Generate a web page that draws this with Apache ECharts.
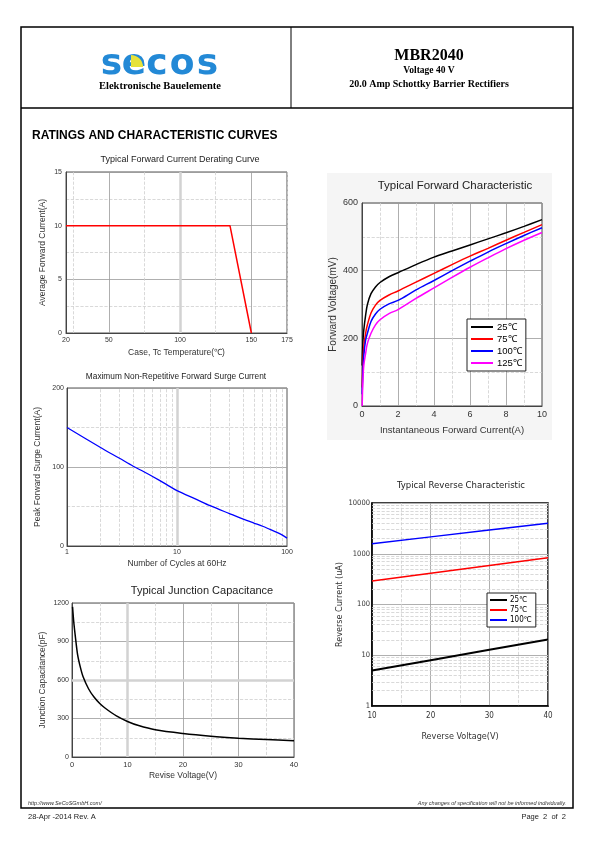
<!DOCTYPE html>
<html><head><meta charset="utf-8">
<script src="https://cdn.jsdelivr.net/npm/echarts@6/dist/echarts.min.js"></script>
<style>html,body{margin:0;padding:0;background:#fff}#c{width:595px;height:842px}</style>
</head><body><div id="c"></div><script>
// ---------- data ----------
const deratingTempC = [20, 135, 150];
const deratingA = [10, 10, 0];
const deratingXLabels = [20, 50, 100, 150, 175];

const surgeCycles = [1, 2, 3, 4, 5, 6, 8, 10, 15, 20, 30, 40, 50, 60, 70, 80, 90, 100];
const surgeA = [150, 125, 111, 101, 94, 88, 78, 70, 59, 51, 41, 34, 29, 25, 21, 17.5, 14, 10];
const surgeMinorX = [2, 3, 4, 5, 6, 7, 8, 9, 20, 30, 40, 50, 60, 70, 80, 90];

const capV = [0.1, 0.3, 0.6, 1, 1.5, 2, 3, 4, 5, 6, 8, 10, 12, 15, 20, 25, 30, 35, 40];
const capPF = [1170, 1060, 940, 800, 700, 625, 530, 465, 417, 380, 320, 277, 245, 212, 183, 162, 147, 136, 126];

const fwdI = [0.01, 0.05, 0.1, 0.2, 0.3, 0.5, 0.75, 1, 1.5, 2, 3, 4, 5, 6, 7, 8, 9, 10];
const fwd25 = [120, 190, 225, 268, 300, 332, 352, 365, 382, 394, 418, 440, 458, 476, 494, 512, 531, 551];
const fwd75 = [55, 130, 175, 215, 240, 275, 298, 312, 328, 340, 366, 392, 418, 443, 466, 490, 513, 536];
const fwd100 = [35, 105, 150, 195, 215, 250, 272, 286, 302, 312, 343, 371, 400, 428, 455, 480, 504, 527];
const fwd125 = [0, 75, 120, 155, 185, 215, 240, 255, 273, 285, 318, 349, 380, 410, 438, 465, 490, 513];
const fwdNames = ['25℃', '75℃', '100℃', '125℃'];

const revV = [10, 20, 30, 40];
const rev25 = [5, 8, 12.8, 20.5];
const rev75 = [290, 412, 585, 830];
const rev100 = [1580, 2150, 2930, 4000];
const revNames = ['25℃', '75℃', '100℃'];
const revMinorY = [2,3,4,5,6,7,8,9, 20,30,40,50,60,70,80,90, 200,300,400,500,600,700,800,900, 2000,3000,4000,5000,6000,7000,8000,9000];

// ---------- helpers ----------
const SANS = '"Liberation Sans", Arial, sans-serif';
const SERIF = '"Liberation Serif", "Times New Roman", serif';
const NARROW = '"Liberation Sans Narrow", "DejaVu Sans Condensed", "Liberation Sans", sans-serif';
const zip = (a, b) => a.map((v, i) => [v, b[i]]);
const MAJOR = '#9a9a9a', MINOR = '#cfcfcf';
const plain = v => String(v);

function colorCycle(len, on, color) {
  const arr = [];
  for (let i = 0; i < len; i++) arr.push(on.includes(i) ? color : 'rgba(0,0,0,0)');
  return arr;
}
function helperLines(xi, yi, data, style) {
  return {
    type: 'line', xAxisIndex: xi, yAxisIndex: yi, data: [], silent: true, z: 1,
    markLine: { silent: true, z: 1, animation: false, symbol: ['none', 'none'], label: { show: false },
      emphasis: { disabled: true }, lineStyle: style, data: data }
  };
}
function txt(x, y, text, font, align, fill, extra) {
  return Object.assign({ type: 'text', x: x, y: y, style: { text: text, font: font, fill: fill || '#000',
    textAlign: align || 'left', textVerticalAlign: 'middle' } }, extra || {});
}
const lbl = (size, fam) => ({ fontSize: size, fontFamily: fam || SANS, color: '#333' });
const axLine = (c, w) => ({ show: true, lineStyle: { color: c || '#444', width: w || 1 } });

const chart = echarts.init(document.getElementById('c'), null, { renderer: 'canvas' });

const option = {
  animation: false,
  backgroundColor: '#fff',
  graphic: [
    { type: 'rect', z: -10, shape: { x: 327, y: 173, width: 225, height: 267 }, style: { fill: '#f5f5f5' } },
    { type: 'rect', shape: { x: 21, y: 27, width: 552, height: 781 }, style: { fill: 'none', stroke: '#000', lineWidth: 1.5 } },
    { type: 'line', shape: { x1: 21, y1: 108, x2: 573, y2: 108 }, style: { stroke: '#000', lineWidth: 1.5 } },
    { type: 'line', shape: { x1: 291, y1: 27, x2: 291, y2: 108 }, style: { stroke: '#000', lineWidth: 1 } },
    // logo
    txt(111.5, 65, 's', 'bold 36px "DejaVu Sans"', 'center', '#2389d6'),
    txt(134, 65, 'e', 'bold 36px "DejaVu Sans"', 'center', '#2389d6'),
    { type: 'sector', shape: { cx: 131, cy: 67, r: 12, startAngle: -Math.PI / 2, endAngle: 0 }, style: { fill: '#e6e23a' } },
    txt(157, 65, 'c', 'bold 36px "DejaVu Sans"', 'center', '#2389d6'),
    txt(182, 65, 'o', 'bold 36px "DejaVu Sans"', 'center', '#2389d6'),
    txt(207.5, 65, 's', 'bold 36px "DejaVu Sans"', 'center', '#2389d6'),
    txt(160, 86, 'Elektronische Bauelemente', 'bold 10.5px ' + SERIF, 'center'),
    txt(429, 56, 'MBR2040', 'bold 16px ' + SERIF, 'center'),
    txt(429, 71, 'Voltage 40 V', 'bold 9.5px ' + SERIF, 'center'),
    txt(429, 84, '20.0 Amp Schottky Barrier Rectifiers', 'bold 10px ' + SERIF, 'center'),
    txt(32, 136, 'RATINGS AND CHARACTERISTIC CURVES', 'bold 12px ' + SANS, 'left'),
    // chart titles
    txt(180, 160, 'Typical Forward Current Derating Curve', '9px ' + SANS, 'center', '#222'),
    txt(176, 377, 'Maximum Non-Repetitive Forward Surge Current', '8.3px ' + SANS, 'center', '#222'),
    txt(202, 591, 'Typical Junction Capacitance', '11px ' + SANS, 'center', '#222'),
    txt(455, 186, 'Typical Forward Characteristic', '11.5px ' + SANS, 'center', '#222'),
    txt(461, 486, 'Typical Reverse Characteristic', '9.5px ' + NARROW, 'center', '#222'),
    // footer
    txt(28, 803, 'http://www.SeCoSGmbH.com/', 'italic 5.5px ' + SANS, 'left', '#333'),
    txt(566, 803, 'Any changes of specification will not be informed individually.', 'italic 5.5px ' + SANS, 'right', '#333'),
    txt(28, 817, '28-Apr -2014 Rev. A', '7.5px ' + SANS, 'left', '#222'),
    txt(566, 817, 'Page  2  of  2', '7.5px ' + SANS, 'right', '#222')
  ],
  legend: [
    { left: 467, top: 319, orient: 'vertical', selectedMode: false, data: fwdNames,
      backgroundColor: '#fff', borderColor: '#222', borderWidth: 1, padding: [3, 4, 3, 4],
      itemGap: 2, itemWidth: 22, itemHeight: 2, icon: 'rect',
      textStyle: { fontSize: 9.5, fontFamily: SANS, color: '#000', padding: [0, 0, 0, -1] } },
    { left: 487, top: 593, orient: 'vertical', selectedMode: false, data: revNames,
      backgroundColor: '#fff', borderColor: '#222', borderWidth: 1, padding: [3, 4, 3, 3],
      itemGap: 2, itemWidth: 17, itemHeight: 2, icon: 'rect',
      textStyle: { fontSize: 8, fontFamily: NARROW, color: '#000', padding: [0, 0, 0, -2] } }
  ],
  grid: [
    { left: 66, top: 172, width: 221, height: 161, show: true, borderColor: '#555', borderWidth: 1, backgroundColor: '#fff', outerBoundsMode: 'none' },
    { left: 67, top: 388, width: 220, height: 158, show: true, borderColor: '#555', borderWidth: 1, backgroundColor: '#fff', outerBoundsMode: 'none' },
    { left: 72, top: 603, width: 222, height: 154, show: true, borderColor: '#555', borderWidth: 1, backgroundColor: '#fff', outerBoundsMode: 'none' },
    { left: 362, top: 203, width: 180, height: 203, show: true, borderColor: '#444', borderWidth: 1, backgroundColor: '#fff', outerBoundsMode: 'none' },
    { left: 372, top: 503, width: 176, height: 203, show: true, borderColor: '#000', borderWidth: 1.5, backgroundColor: '#fff', outerBoundsMode: 'none' }
  ],
  xAxis: [
    // 0: derating (solid grid + labels)
    { type: 'value', gridIndex: 0, min: 20, max: 175, interval: 5,
      name: 'Case, Tc Temperature(℃)', nameLocation: 'middle', nameGap: 15.5, nameTextStyle: lbl(8.5),
      axisLine: axLine(), axisTick: { show: false },
      axisLabel: Object.assign(lbl(7), { margin: 4, formatter: v => deratingXLabels.includes(v) ? String(v) : '' }),
      splitLine: { show: true, lineStyle: { color: colorCycle(10, [6], MAJOR), width: 0.8 } } },
    // 1: derating (dashed grid)
    { type: 'value', gridIndex: 0, min: 20, max: 175, interval: 5, position: 'bottom',
      axisLine: { show: false }, axisTick: { show: false }, axisLabel: { show: false },
      splitLine: { show: true, lineStyle: { color: colorCycle(10, [1], MINOR), width: 0.8, type: 'dashed' } } },
    // 2: surge (log)
    { type: 'log', logBase: 10, gridIndex: 1, min: 1, max: 100,
      name: 'Number of Cycles at 60Hz', nameLocation: 'middle', nameGap: 13.5, nameTextStyle: lbl(8.5),
      axisLine: axLine(), axisTick: { show: false }, axisLabel: Object.assign(lbl(7), { margin: 3, formatter: plain }),
      splitLine: { show: true, showMinLine: false, showMaxLine: false, lineStyle: { color: '#d2d2d2', width: 2.5 } } },
    // 3: capacitance
    { type: 'value', gridIndex: 2, min: 0, max: 40, interval: 10,
      name: 'Revise Voltage(V)', nameLocation: 'middle', nameGap: 14.5, nameTextStyle: lbl(8.5),
      axisLine: axLine(), axisTick: { show: false }, axisLabel: Object.assign(lbl(7.5), { margin: 4, formatter: plain }),
      splitLine: { show: true, lineStyle: { color: MAJOR, width: 0.8 } },
      minorTick: { show: false, splitNumber: 2 },
      minorSplitLine: { show: true, lineStyle: { color: MINOR, width: 0.8, type: 'dashed' } } },
    // 4: forward
    { type: 'value', gridIndex: 3, min: 0, max: 10, interval: 2,
      name: 'Instantaneous Forward Current(A)', nameLocation: 'middle', nameGap: 19.5, nameTextStyle: lbl(9.5),
      axisLine: axLine(), axisTick: { show: false }, axisLabel: Object.assign(lbl(9), { margin: 4, formatter: plain }),
      splitLine: { show: true, lineStyle: { color: MAJOR, width: 0.8 } },
      minorTick: { show: false, splitNumber: 2 },
      minorSplitLine: { show: true, lineStyle: { color: MINOR, width: 0.8, type: 'dashed' } } },
    // 5: reverse
    { type: 'value', gridIndex: 4, min: 10, max: 40, interval: 10,
      name: 'Reverse Voltage(V)', nameLocation: 'middle', nameGap: 26, nameTextStyle: lbl(9, NARROW),
      axisLine: axLine('#000', 1.5), axisTick: { show: false }, axisLabel: Object.assign(lbl(8, NARROW), { margin: 6, formatter: plain }),
      splitLine: { show: true, lineStyle: { color: MAJOR, width: 0.8 } },
      minorTick: { show: false, splitNumber: 2 },
      minorSplitLine: { show: true, lineStyle: { color: MINOR, width: 0.8, type: 'dashed' } } }
  ],
  yAxis: [
    { type: 'value', gridIndex: 0, min: 0, max: 15, interval: 5,
      name: 'Average Forward Current(A)', nameLocation: 'middle', nameGap: 19, nameTextStyle: lbl(8.5),
      axisLine: axLine(), axisTick: { show: false }, axisLabel: Object.assign(lbl(7), { margin: 4, formatter: plain }),
      splitLine: { show: true, lineStyle: { color: MAJOR, width: 0.8 } },
      minorTick: { show: false, splitNumber: 2 },
      minorSplitLine: { show: true, lineStyle: { color: MINOR, width: 0.8, type: 'dashed' } } },
    { type: 'value', gridIndex: 1, min: 0, max: 200, interval: 100,
      name: 'Peak Forward Surge Current(A)', nameLocation: 'middle', nameGap: 24.5, nameTextStyle: lbl(8.5),
      axisLine: axLine(), axisTick: { show: false }, axisLabel: Object.assign(lbl(7), { margin: 3, formatter: plain }),
      splitLine: { show: true, lineStyle: { color: MAJOR, width: 0.8 } },
      minorTick: { show: false, splitNumber: 2 },
      minorSplitLine: { show: true, lineStyle: { color: MINOR, width: 0.8, type: 'dashed' } } },
    { type: 'value', gridIndex: 2, min: 0, max: 1200, interval: 300,
      name: 'Junction Capacitance(pF)', nameLocation: 'middle', nameGap: 24.5, nameTextStyle: lbl(8.5),
      axisLine: axLine(), axisTick: { show: false }, axisLabel: Object.assign(lbl(7), { margin: 3, formatter: plain }),
      splitLine: { show: true, lineStyle: { color: MAJOR, width: 0.8 } },
      minorTick: { show: false, splitNumber: 2 },
      minorSplitLine: { show: true, lineStyle: { color: MINOR, width: 0.8, type: 'dashed' } } },
    { type: 'value', gridIndex: 3, min: 0, max: 600, interval: 200,
      name: 'Forward Voltage(mV)', nameLocation: 'middle', nameGap: 23.5, nameTextStyle: lbl(10),
      axisLine: axLine(), axisTick: { show: false }, axisLabel: Object.assign(lbl(9), { margin: 4, formatter: plain }),
      splitLine: { show: true, lineStyle: { color: MAJOR, width: 0.8 } },
      minorTick: { show: false, splitNumber: 2 },
      minorSplitLine: { show: true, lineStyle: { color: MINOR, width: 0.8, type: 'dashed' } } },
    { type: 'log', logBase: 10, gridIndex: 4, min: 1, max: 10000,
      name: 'Reverse Current (uA)', nameLocation: 'middle', nameGap: 23, nameTextStyle: lbl(9, NARROW),
      axisLine: axLine('#000', 1.5), axisTick: { show: false }, axisLabel: Object.assign(lbl(7.5, NARROW), { margin: 2, formatter: plain }),
      splitLine: { show: true, lineStyle: { color: '#b0b0b0', width: 1 } } }
  ],
  series: [
    helperLines(0, 0, [{ xAxis: 100 }], { color: '#d2d2d2', width: 2.5, type: 'solid' }),
    { type: 'line', xAxisIndex: 0, yAxisIndex: 0, data: zip(deratingTempC, deratingA), symbol: 'none',
      lineStyle: { color: '#ff0000', width: 1.5 }, z: 3 },

    helperLines(2, 1, surgeMinorX.map(v => ({ xAxis: v })), { color: MINOR, width: 0.8, type: 'dashed' }),
    { type: 'line', xAxisIndex: 2, yAxisIndex: 1, data: zip(surgeCycles, surgeA), symbol: 'none', smooth: 0.3,
      lineStyle: { color: '#0000ff', width: 1.3 }, z: 3 },

    helperLines(3, 2, [{ xAxis: 10 }, { yAxis: 600 }], { color: '#d2d2d2', width: 2.5, type: 'solid' }),
    { type: 'line', xAxisIndex: 3, yAxisIndex: 2, data: zip(capV, capPF), symbol: 'none', smooth: 0.3,
      lineStyle: { color: '#000', width: 1.5 }, z: 3 },

    { name: fwdNames[0], type: 'line', xAxisIndex: 4, yAxisIndex: 3, data: zip(fwdI, fwd25), symbol: 'none', smooth: 0.35,
      color: '#000', lineStyle: { color: '#000', width: 1.5 }, z: 3 },
    { name: fwdNames[1], type: 'line', xAxisIndex: 4, yAxisIndex: 3, data: zip(fwdI, fwd75), symbol: 'none', smooth: 0.35,
      color: '#ff0000', lineStyle: { color: '#ff0000', width: 1.5 }, z: 3 },
    { name: fwdNames[2], type: 'line', xAxisIndex: 4, yAxisIndex: 3, data: zip(fwdI, fwd100), symbol: 'none', smooth: 0.35,
      color: '#0000ff', lineStyle: { color: '#0000ff', width: 1.5 }, z: 3 },
    { name: fwdNames[3], type: 'line', xAxisIndex: 4, yAxisIndex: 3, data: zip(fwdI, fwd125), symbol: 'none', smooth: 0.35,
      color: '#ff00ff', lineStyle: { color: '#ff00ff', width: 1.5 }, z: 3 },

    helperLines(5, 4, revMinorY.map(v => ({ yAxis: v })), { color: MINOR, width: 0.8, type: 'dashed' }),
    { name: revNames[0], type: 'line', xAxisIndex: 5, yAxisIndex: 4, data: zip(revV, rev25), symbol: 'none',
      color: '#000', lineStyle: { color: '#000', width: 2 }, z: 3 },
    { name: revNames[1], type: 'line', xAxisIndex: 5, yAxisIndex: 4, data: zip(revV, rev75), symbol: 'none',
      color: '#ff0000', lineStyle: { color: '#ff0000', width: 1.5 }, z: 3 },
    { name: revNames[2], type: 'line', xAxisIndex: 5, yAxisIndex: 4, data: zip(revV, rev100), symbol: 'none',
      color: '#0000ff', lineStyle: { color: '#0000ff', width: 1.5 }, z: 3 }
  ]
};
chart.setOption(option);
</script></body></html>
